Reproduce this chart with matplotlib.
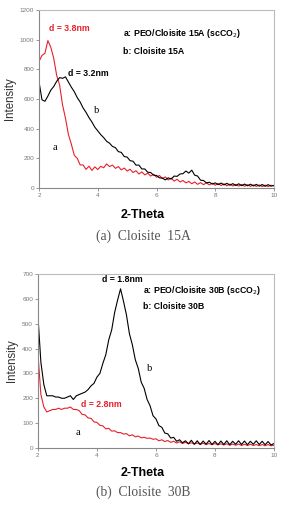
import numpy as np
import matplotlib
matplotlib.use("Agg")
from matplotlib import pyplot as plt

plt.rcParams['font.family'] = ['Liberation Sans', 'DejaVu Sans']

# 2-theta grid (deg), step 0.1
two_theta = np.linspace(2, 10, 81)

# (a) Cloisite 15A
peo_15a = [855, 895, 910, 995, 950, 875, 760, 695, 560, 470,
           360, 295, 220, 200, 155, 155, 125, 147, 118, 142,
           124, 146, 136, 162, 144, 154, 132, 144, 122, 134,
           114, 126, 104, 116, 94, 108, 88, 100, 80, 92,
           72, 84, 64, 74, 54, 66, 46, 58, 40, 50,
           34, 44, 28, 40, 24, 36, 22, 34, 20, 32,
           18, 30, 16, 28, 14, 26, 13, 24, 12, 23,
           11, 22, 10, 21, 10, 20, 9, 19, 9, 18,
           14]
clay_15a = [715, 595, 585, 620, 660, 685, 720, 745, 740, 750,
            715, 680, 650, 610, 580, 540, 510, 475, 445, 410,
            385, 360, 340, 315, 302, 280, 272, 245, 240, 212,
            208, 184, 180, 154, 154, 128, 128, 106, 104, 86,
            84, 68, 66, 54, 68, 60, 80, 78, 94, 96,
            114, 100, 120, 86, 80, 52, 50, 34, 38, 26,
            34, 22, 33, 20, 31, 18, 29, 16, 28, 15,
            26, 14, 25, 13, 24, 12, 23, 11, 22, 12,
            17]

# (b) Cloisite 30B
peo_30b = [380, 215, 165, 145, 150, 155, 155, 160, 155, 160,
           160, 165, 155, 155, 150, 135, 133, 121, 119, 105,
           103, 91, 89, 77, 79, 68, 69, 62, 62, 56,
           58, 49, 53, 45, 48, 41, 43, 39, 40, 35,
           37, 29, 33, 26, 30, 23, 27, 20, 25, 18,
           23, 17, 21, 16, 20, 15, 19, 14, 18, 13,
           18, 13, 17, 12, 17, 11, 16, 11, 16, 10,
           15, 10, 15, 10, 14, 9, 14, 9, 14, 9,
           11]
clay_30b = [530, 345, 255, 210, 210, 210, 205, 205, 200, 200,
            205, 210, 195, 210, 215, 220, 225, 235, 250, 260,
            285, 300, 340, 375, 435, 475, 545, 595, 640, 590,
            535, 460, 415, 355, 320, 265, 240, 195, 170, 130,
            117, 90, 83, 60, 57, 40, 43, 27, 33, 21,
            29, 17, 31, 15, 29, 14, 28, 15, 30, 14,
            27, 13, 28, 14, 29, 13, 27, 15, 29, 14,
            28, 13, 27, 15, 29, 14, 27, 13, 26, 12,
            18]

red = '#e8202a'
grey_txt = '#777777'

fig = plt.figure(figsize=(2.81, 5.12), dpi=100)


def style(ax, ymax, ystep):
    ax.set_xlim(2, 10)
    ax.set_ylim(0, ymax)
    ax.set_xticks([2, 4, 6, 8, 10])
    ax.set_yticks(np.arange(0, ymax + 1, ystep))
    ax.tick_params(labelsize=4.6, colors='#888888', labelcolor=grey_txt,
                   length=2, width=0.6, pad=1.5)
    for s in ['left', 'bottom']:
        ax.spines[s].set_color('#888888')
        ax.spines[s].set_linewidth(0.8)
    for s in ['top', 'right']:
        ax.spines[s].set_color('#bbbbbb')
        ax.spines[s].set_linewidth(0.8)
    ax.set_ylabel('Intensity', fontsize=8.3, color='#333333', labelpad=3)


# top chart
ax1 = fig.add_axes([0.139, 0.633, 0.836, 0.347])
ax1.plot(two_theta, peo_15a, color=red, lw=0.8)
ax1.plot(two_theta, clay_15a, color='black', lw=0.8)
style(ax1, 1200, 200)
ax1.text(2.34, 1078, 'd = 3.8nm', color=red, fontsize=6.3, fontweight='bold', va='center')
ax1.text(2.99, 775, 'd = 3.2nm', color='black', fontsize=6.3, fontweight='bold', va='center')
ax1.text(4.86, 1045, 'a: PEO/Cloisite 15A (scCO$_2$)', fontsize=6.3, fontweight='bold', va='center')
ax1.text(4.86, 923, 'b: Cloisite 15A', fontsize=6.3, fontweight='bold', va='center')
ax1.text(3.97, 526, 'b', fontsize=7.5, family='Liberation Serif', ha='center', va='center')
ax1.text(2.54, 276, 'a', fontsize=7.5, family='Liberation Serif', ha='center', va='center')

# bottom chart
ax2 = fig.add_axes([0.135, 0.125, 0.84, 0.34])
ax2.plot(two_theta, peo_30b, color=red, lw=0.8)
ax2.plot(two_theta, clay_30b, color='black', lw=0.8)
style(ax2, 700, 100)
ax2.text(4.17, 676, 'd = 1.8nm', color='black', fontsize=6.3, fontweight='bold', va='center')
ax2.text(3.46, 173, 'd = 2.8nm', color=red, fontsize=6.3, fontweight='bold', va='center')
ax2.text(5.56, 632, 'a: PEO/Cloisite 30B (scCO$_2$)', fontsize=6.3, fontweight='bold', va='center')
ax2.text(5.56, 567, 'b: Cloisite 30B', fontsize=6.3, fontweight='bold', va='center')
ax2.text(5.80, 318, 'b', fontsize=7.5, family='Liberation Serif', ha='center', va='center')
ax2.text(3.36, 64, 'a', fontsize=7.5, family='Liberation Serif', ha='center', va='center')

# x labels and captions (figure coords)
fig.text(142.5 / 281, 1 - 215 / 512, '2-Theta', fontsize=8.9, fontweight='bold',
         ha='center', va='center')
fig.text(143 / 281, 1 - 236 / 512, '(a)  Cloisite  15A', fontsize=9.8,
         family='Liberation Serif', color='#555555', ha='center', va='center')
fig.text(142.5 / 281, 1 - 473 / 512, '2-Theta', fontsize=8.9, fontweight='bold',
         ha='center', va='center')
fig.text(143 / 281, 1 - 492 / 512, '(b)  Cloisite  30B', fontsize=9.8,
         family='Liberation Serif', color='#555555', ha='center', va='center')

fig.savefig('out.png', dpi=100)
